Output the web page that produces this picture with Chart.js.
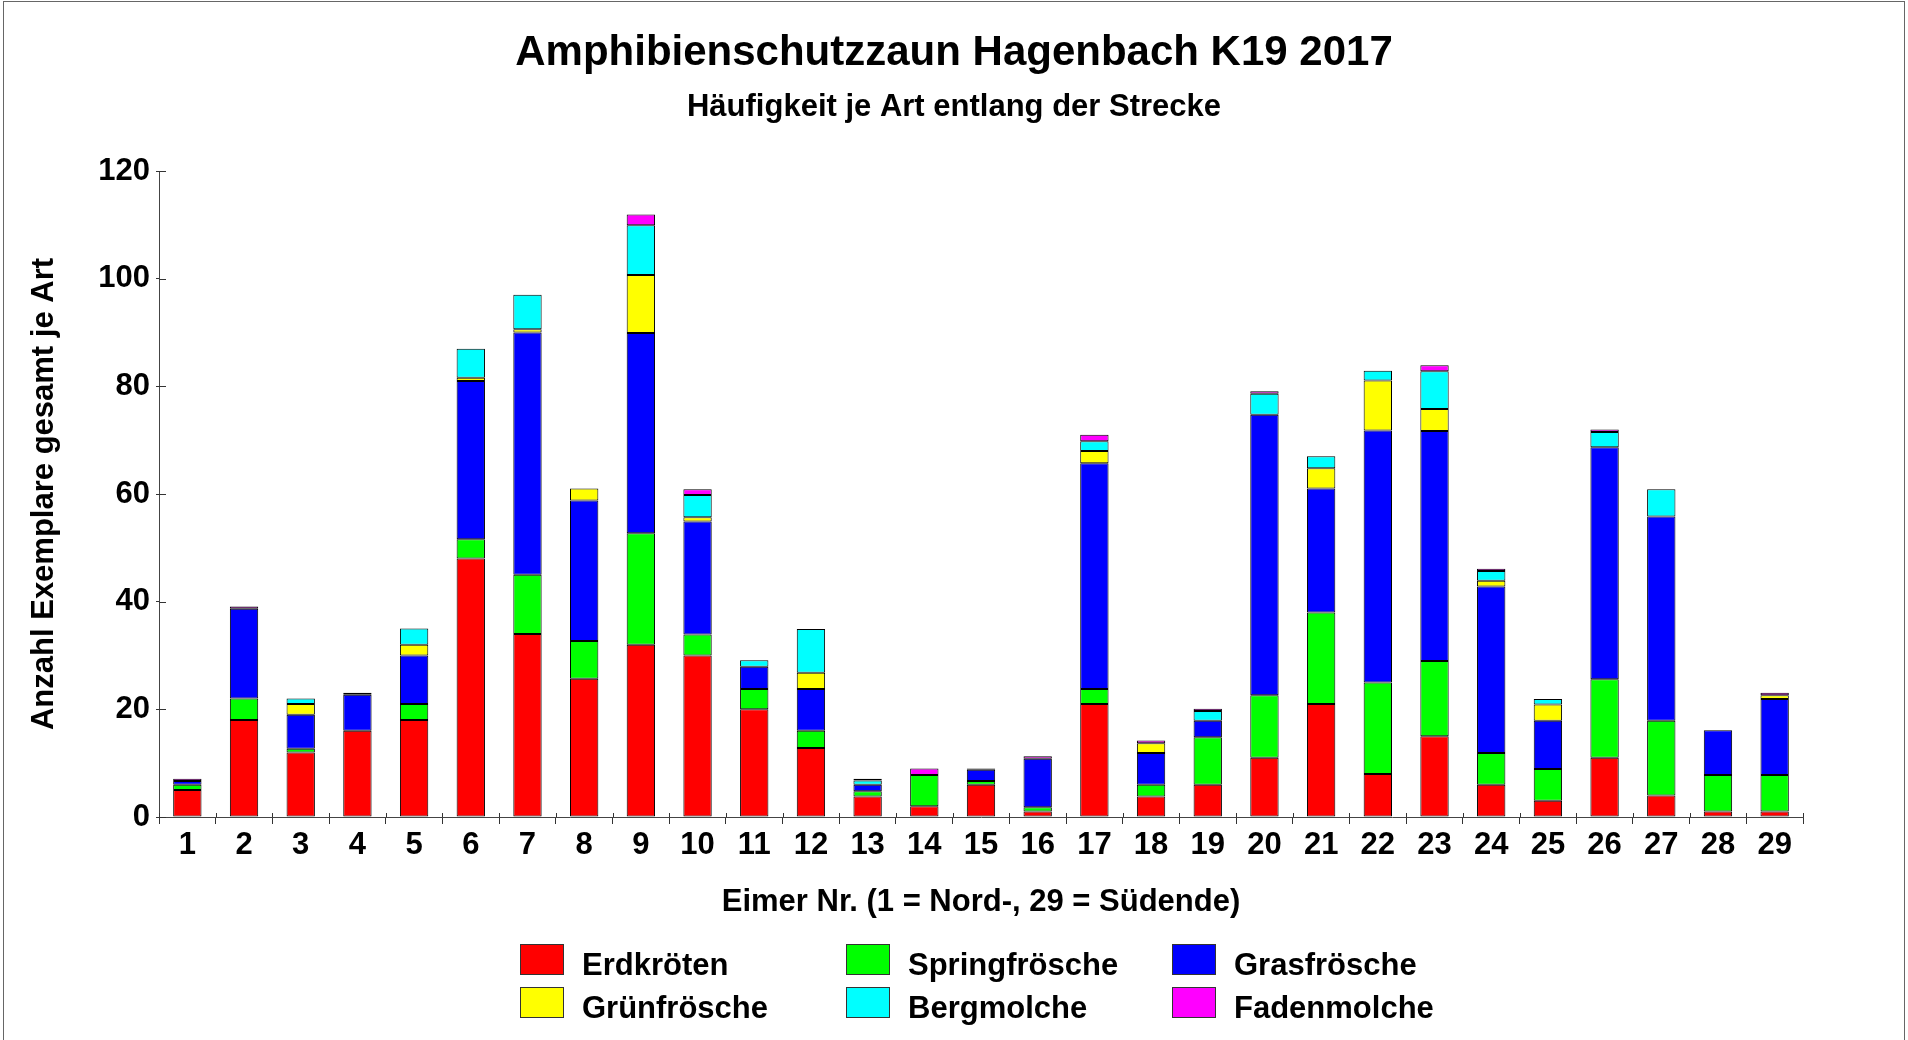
<!DOCTYPE html>
<html lang="de">
<head>
<meta charset="utf-8">
<title>Amphibienschutzzaun Hagenbach K19 2017</title>
<script src="https://cdn.jsdelivr.net/npm/chart.js@4.4.1/dist/chart.umd.min.js"></script>
<style>
  html, body { margin: 0; padding: 0; background: #fff; }
  #wrap { position: relative; width: 1908px; height: 1040px; overflow: hidden; }
  #frame { position: absolute; left: 3px; top: 1px; width: 1900px; height: 1100px; border: 1px solid #666; pointer-events: none; }
  #legend {
    position: absolute; left: 520px; top: 944px;
    display: grid; grid-template-columns: 326px 326px 326px; grid-auto-rows: 43px;
    font-family: "Liberation Sans", Arial, sans-serif; font-weight: bold; font-size: 31px; color: #000;
  }
  .item { display: flex; align-items: flex-start; }
  .box { width: 42px; height: 29px; border: 1px solid #333; margin-right: 18px; flex: none; }
  .lbl { line-height: 31px; position: relative; top: 5px; white-space: nowrap; }
</style>
</head>
<body>
<div id="wrap">
  <canvas id="chart" width="1908" height="1040"></canvas>
  <div id="legend"></div>
  <div id="frame"></div>
</div>
<script>
// Eimer 1..29 (Nord -> Sued)
const eimer = ["1","2","3","4","5","6","7","8","9","10","11","12","13","14","15","16","17","18","19","20","21","22","23","24","25","26","27","28","29"];

// Werte je Art, von unten nach oben gestapelt
const erdkroeten    = [5, 18, 12, 16, 18, 48, 34, 25.7, 32, 30, 20, 12.8, 3.8, 2, 6, 1, 21, 3.8, 6, 11, 21, 8, 15, 6, 3, 11, 4, 1, 1];
const springfroesche = [1, 4, 0.7, null, 3, 3.6, 11, 7, 20.7, 3.9, 3.8, 3.2, 1, 5.8, 0.7, 0.8, 2.8, 2.2, 8.8, 11.6, 17, 17, 14, 5.9, 5.9, 14.6, 13.9, 6.8, 6.8];
const grasfroesche  = [0.7, 16.7, 6.3, 6.7, 9, 29.4, 45, 26.1, 37.2, 21, 4.1, 7.8, 1.2, null, 2.1, 9, 41.9, 5.9, 3.1, 52.1, 23, 46.8, 42.7, 30.9, 9, 43.1, 37.9, 8.3, 14.1];
const gruenfroesche = [null, null, 2, null, 2, 0.6, 0.6, 2.2, 10.8, 0.8, null, 3, null, null, null, null, 2.3, 1.8, null, null, 3.8, 9.3, 4.1, 1.1, 3, null, null, null, 0.7];
const bergmolche    = [null, null, 1, null, 3, 5.4, 6.4, null, 9.2, 4.1, 1.2, 8.1, 0.8, null, null, null, 1.8, null, 1.8, 3.9, 2.2, 1.8, 7, 1.8, 1, 2.8, 5.1, null, null];
const fadenmolche   = [0.4, 0.4, null, 0.4, null, null, null, null, 2, 1.1, null, null, 0.3, 1.2, 0.2, 0.5, 1.2, 0.5, 0.4, 0.5, null, null, 1.1, 0.4, null, 0.5, null, null, 0.5];

const artNamen = ["Erdkröten", "Springfrösche", "Grasfrösche", "Grünfrösche", "Bergmolche", "Fadenmolche"];
const artFarben = ["#ff0000", "#00ff00", "#0000ff", "#ffff00", "#00ffff", "#ff00ff"];
const artWerte = [erdkroeten, springfroesche, grasfroesche, gruenfroesche, bergmolche, fadenmolche];

const yTicks = [0, 20, 40, 60, 80, 100, 120];

Chart.defaults.font.family = '"Liberation Sans", Arial, sans-serif';
Chart.defaults.font.weight = "bold";
Chart.defaults.color = "#000";

// kleine Striche, die nach innen ueber die Achse ragen (wie im Original)
const innerTicks = {
  id: "innerTicks",
  afterDraw(chart) {
    const ctx = chart.ctx;
    const area = chart.chartArea;
    const x = chart.scales.x;
    const y = chart.scales.y;
    ctx.save();
    ctx.strokeStyle = "#333";
    ctx.lineWidth = 1;
    ctx.beginPath();
    yTicks.forEach((v) => {
      const py = Math.round(y.getPixelForValue(v)) + 0.5;
      ctx.moveTo(area.left, py);
      ctx.lineTo(area.left + 7, py);
    });
    for (let i = 0; i <= eimer.length; i++) {
      let px;
      if (i === 0) px = area.left;
      else if (i === eimer.length) px = area.right;
      else px = (x.getPixelForValue(i - 1) + x.getPixelForValue(i)) / 2;
      px = Math.round(px) + 0.5;
      ctx.moveTo(px, area.bottom);
      ctx.lineTo(px, area.bottom - 4);
    }
    ctx.stroke();
    ctx.restore();
  },
};

const ctx = document.getElementById("chart").getContext("2d");
new Chart(ctx, {
  type: "bar",
  data: {
    labels: eimer,
    datasets: artWerte.map((werte, i) => ({
      label: artNamen[i],
      data: werte,
      backgroundColor: artFarben[i],
      borderColor: "#000",
      borderWidth: 1,
      borderSkipped: false,
      barPercentage: 0.5,
      categoryPercentage: 1.0,
    })),
  },
  options: {
    responsive: false,
    animation: false,
    layout: { padding: { left: 0, right: 0, top: 0, bottom: 103 } },
    plugins: {
      legend: { display: false },
      tooltip: { enabled: false },
      title: {
        display: true,
        text: "Amphibienschutzzaun Hagenbach K19 2017",
        font: { size: 42, weight: "bold" },
        color: "#000",
        padding: { top: 28, bottom: 0 },
      },
      subtitle: {
        display: true,
        text: "Häufigkeit je Art entlang der Strecke",
        font: { size: 31, weight: "bold" },
        color: "#000",
        padding: { top: 10, bottom: 45.4 },
      },
    },
    scales: {
      x: {
        stacked: true,
        grid: { display: true, drawOnChartArea: false, offset: true, tickLength: 7, tickColor: "#333" },
        border: { display: true, color: "#444", width: 1 },
        ticks: { font: { size: 31, weight: "bold" }, color: "#000", padding: 2.4, maxRotation: 0, autoSkip: false },
        title: {
          display: true,
          text: "Eimer Nr. (1 = Nord-, 29 = Südende)",
          font: { size: 31, weight: "bold" },
          color: "#000",
          padding: { top: 0, bottom: 16.4 },
        },
        afterFit(scale) { scale.height = 120; },
      },
      y: {
        stacked: true,
        min: 0,
        max: 120,
        afterBuildTicks(scale) { scale.ticks = yTicks.map((v) => ({ value: v })); },
        grid: { display: true, drawOnChartArea: false, tickLength: 3, tickColor: "#333" },
        border: { display: true, color: "#444", width: 1 },
        ticks: { font: { size: 31, weight: "bold" }, color: "#000", padding: 6 },
        title: {
          display: true,
          text: "Anzahl Exemplare gesamt je Art",
          font: { size: 31, weight: "bold" },
          color: "#000",
          padding: { top: 26, bottom: 0 },
        },
        afterFit(scale) { scale.width = 159; },
      },
      // leere rechte Achse, haelt nur den rechten Rand frei
      yRand: {
        position: "right",
        display: true,
        grid: { display: false },
        border: { display: false },
        ticks: { display: false },
        afterFit(scale) { scale.width = 105; },
      },
    },
  },
  plugins: [innerTicks],
});

// Legende als HTML, 3 Spalten
const legendEl = document.getElementById("legend");
artNamen.forEach((name, i) => {
  const item = document.createElement("div");
  item.className = "item";
  const box = document.createElement("div");
  box.className = "box";
  box.style.background = artFarben[i];
  const lbl = document.createElement("span");
  lbl.className = "lbl";
  lbl.textContent = name;
  item.appendChild(box);
  item.appendChild(lbl);
  legendEl.appendChild(item);
});
</script>
</body>
</html>
